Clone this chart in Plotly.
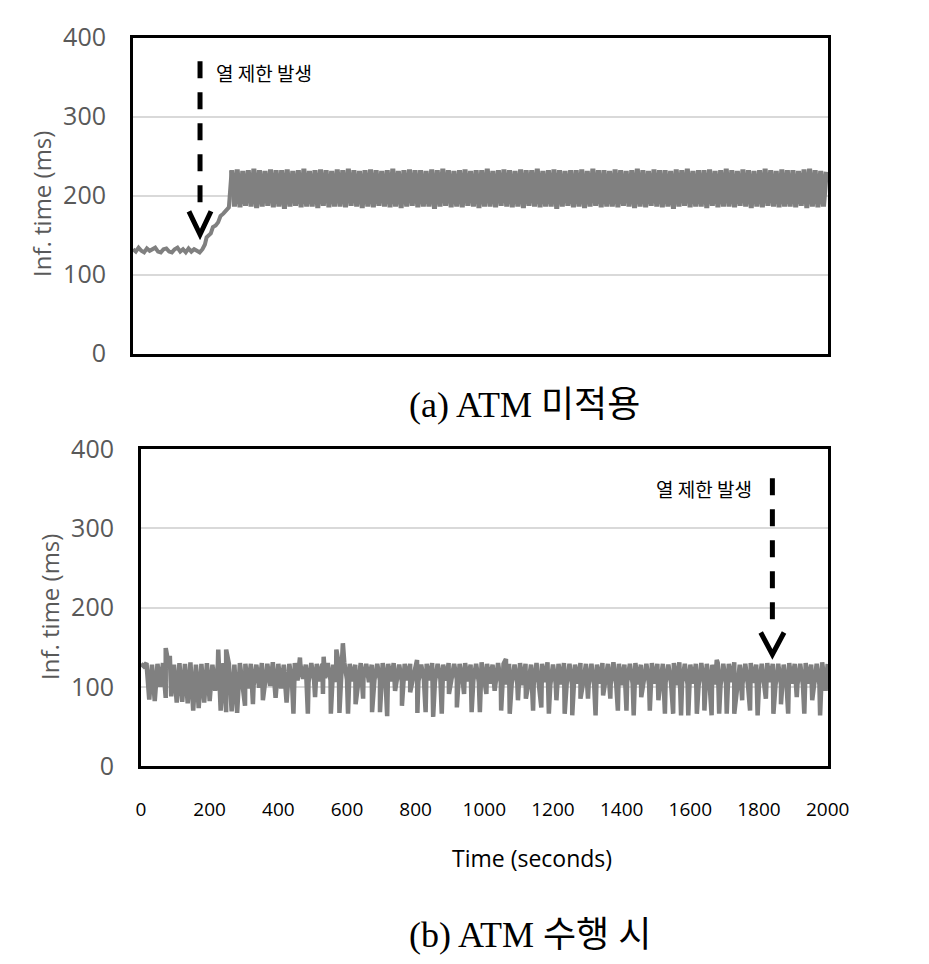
import plotly.graph_objects as go

# ---------------- data (seconds, ms) ----------------
# (a) without ATM
top_flat_t = list(range(0, 201, 8))
top_flat_v = [132, 129, 134, 130, 128, 133, 130, 132, 134, 129, 128, 132, 133,
              129, 128, 132, 134, 129, 132, 128, 133, 129, 132, 130, 128, 132]
top_rise_t = [207, 212, 218, 224, 230, 238, 245, 252, 260, 268, 276]
top_rise_v = [138, 147, 150, 152, 160, 162, 166, 174, 177, 182, 185]
top_band_start = 284
top_band_upper = [
    232, 233, 231, 232, 234, 232, 231, 233, 232, 232,
    233, 231, 232, 234, 231, 232, 233, 232, 231, 233,
    232, 234, 232, 231, 232, 233, 232, 231, 232, 234,
    231, 232, 233, 232, 232, 231, 233, 232, 234, 232,
    231, 232, 233, 231, 232, 232, 234, 231, 232, 233,
    232, 231, 233, 232, 232, 234, 231, 232, 233, 232,
    231, 232, 232, 233, 231, 234, 232, 232, 231, 233,
    232, 231, 232, 234, 232, 231, 233, 232, 232, 231,
    233, 232, 234, 231, 232, 232, 233, 231, 232, 234,
    232, 231, 233, 232, 231, 232, 234, 232, 231, 233,
    232, 232, 231, 233, 234, 232, 231, 230]
top_band_lower = [
    186, 185, 187, 186, 184, 186, 187, 185, 186, 183,
    186, 187, 185, 186, 186, 184, 187, 185, 186, 186,
    185, 187, 186, 184, 186, 185, 187, 186, 185, 186,
    184, 186, 187, 185, 186, 186, 183, 186, 187, 185,
    186, 185, 187, 186, 184, 186, 186, 185, 187, 186,
    185, 186, 184, 187, 186, 185, 186, 186, 183, 186,
    187, 185, 186, 184, 186, 187, 185, 186, 186, 185,
    187, 186, 184, 186, 185, 187, 186, 185, 186, 183,
    186, 187, 185, 186, 186, 184, 187, 185, 186, 186,
    185, 187, 186, 184, 186, 185, 187, 186, 185, 186,
    186, 185, 187, 184, 186, 185, 186]

# (b) with ATM
bot_upper = [
    129, 130, 128, 129, 130, 129, 128, 130, 129, 131,
    128, 129, 130, 128, 129, 130, 129, 128, 130, 129,
    129, 128, 130, 129, 131, 129, 128, 129, 130, 129,
    128, 130, 129, 129, 130, 128, 129, 131, 129, 128,
    130, 129, 128, 129, 130, 129, 130, 128, 129, 129,
    131, 128, 129, 130, 129, 128, 130, 129, 129, 130,
    128, 129, 131, 129, 128, 130, 129, 129, 128, 130,
    129, 128, 130, 129, 131, 128, 129, 130, 129, 128,
    130, 129, 129, 128, 130, 129, 131, 129, 128, 129,
    130, 128, 129, 130, 129, 129, 128, 130, 131, 129,
    128, 129, 130, 129, 128, 130, 129, 129, 131, 128,
    129, 130, 128, 129, 130, 129, 129, 128, 130, 129,
    129, 130, 128, 129, 131, 129]
bot_lower = [
    126, 84, 82, 100, 86, 88, 80, 81, 79, 70, 73, 80, 82, 95, 70, 68, 69, 67,
    100, 98, 102, 99, 100, 101, 86, 98, 80, 104,
    108, 110, 106, 109, 107, 111, 108, 106, 110, 109,
    107, 108, 111, 106, 109, 108, 110, 107, 109, 106,
    108, 110, 107, 109, 108, 106, 110, 108, 107, 109,
    111, 107, 108, 106, 109,
    104, 102, 105, 103, 106, 104, 102, 103, 105, 104,
    106, 102, 104, 103, 105, 101, 104, 106, 103, 102,
    104, 105, 103, 104, 102, 106, 104, 103, 105, 102,
    104, 103, 106, 104, 102, 105, 103, 104, 101, 104,
    105, 103, 102, 104, 106, 103, 104, 102, 105, 103,
    104, 106, 102, 103, 105, 104, 103, 102, 104, 105,
    103, 104]
bot_dip_t = [303, 326, 355, 444, 486, 507, 530, 553, 578, 603, 625, 647,
             673, 696, 717, 740, 760, 784, 805, 829, 851, 876,
             897, 920, 941, 963, 987, 1006, 1030, 1049, 1074, 1098,
             1121, 1142, 1166, 1188, 1210, 1234, 1256, 1280, 1302, 1324,
             1346, 1367, 1389, 1414, 1435, 1457, 1482, 1507, 1526, 1550,
             1573, 1594, 1619, 1641, 1662, 1684, 1706, 1728, 1751, 1774,
             1796, 1820, 1842, 1864, 1885, 1910, 1932, 1955, 1978, 1994]
bot_dip_v = [76, 78, 83, 66, 66, 87, 91, 66, 67, 66, 78, 85,
             68, 68, 63, 95, 76, 93, 67, 68, 62, 66,
             91, 74, 91, 68, 68, 91, 95, 70, 66, 83,
             85, 70, 74, 66, 83, 66, 64, 85, 85, 64,
             89, 85, 70, 70, 64, 87, 70, 83, 66, 66,
             64, 64, 66, 70, 64, 66, 66, 66, 83, 70,
             64, 85, 66, 78, 66, 87, 66, 83, 64, 95]
bot_spike_t = [72, 84, 225, 248, 463, 532, 569, 588, 804, 1063, 1677]
bot_spike_v = [149, 139, 147, 147, 137, 138, 147, 155, 134, 135, 134]

x_ticks = [0, 200, 400, 600, 800, 1000, 1200, 1400, 1600, 1800, 2000]
y_ticks = [0, 100, 200, 300, 400]

# ---------------- build series ----------------
band_t, band_v = [], []
for i in range(len(top_band_upper) + len(top_band_lower)):
    band_t.append(top_band_start + 8 * i)
    band_v.append(top_band_upper[i // 2] if i % 2 == 0 else top_band_lower[i // 2])

pts = [(16 * i, v) for i, v in enumerate(bot_upper)]
pts += [(8 + 16 * i, v) for i, v in enumerate(bot_lower)]
pts += list(zip(bot_dip_t, bot_dip_v)) + list(zip(bot_spike_t, bot_spike_v))
pts.sort(key=lambda p: p[0])
bot_t = [p[0] for p in pts]
bot_v = [p[1] for p in pts]

# ---------------- layout helpers (page has an 8px body margin) ----------------
W, H = 929, 964
OFF = 8


def px(x):
    return (x - OFF) / W


def py(y):
    return 1 - (y - OFF) / H


GRAY = '#808080'
fig = go.Figure()
fig.add_trace(go.Scatter(x=top_flat_t + top_rise_t + band_t[:1],
                         y=top_flat_v + top_rise_v + band_v[:1],
                         mode='lines', xaxis='x', yaxis='y',
                         line=dict(color=GRAY, width=4), hoverinfo='skip'))
fig.add_trace(go.Scatter(x=band_t, y=band_v, mode='lines', xaxis='x', yaxis='y',
                         line=dict(color=GRAY, width=5), hoverinfo='skip'))
fig.add_trace(go.Scatter(x=bot_t, y=bot_v, mode='lines', xaxis='x2', yaxis='y2',
                         line=dict(color=GRAY, width=4.5), hoverinfo='skip'))

common_y = dict(range=[0, 400], tickvals=y_ticks, showgrid=True, gridcolor='#d9d9d9',
                gridwidth=2, zeroline=False, showline=True, mirror=True,
                linecolor='black', linewidth=3, ticks='', automargin=False,
                tickfont=dict(family='Open Sans', size=25, color='#595959'),
                ticklabelstandoff=19)
common_x = dict(range=[0, 2001], showgrid=False, zeroline=False, showline=True,
                mirror=True, linecolor='black', linewidth=3, ticks='',
                tickvals=x_ticks, automargin=False)

fig.update_layout(
    width=W, height=H, margin=dict(l=0, r=0, t=0, b=0, autoexpand=False),
    paper_bgcolor='white', plot_bgcolor='white', showlegend=False,
    xaxis=dict(domain=[px(133), px(828)], anchor='y', showticklabels=False, **common_x),
    yaxis=dict(domain=[py(353.5), py(37.5)], anchor='x', **common_y),
    xaxis2=dict(domain=[px(141), px(828)], anchor='y2', showticklabels=True,
                tickfont=dict(family='Open Sans', size=19, color='black'),
                ticklabelstandoff=24, **common_x),
    yaxis2=dict(domain=[py(766), py(449.3)], anchor='x2', **common_y),
)

# dashed arrows (thermal throttling event)
dash_line = dict(color='black', width=5, dash='17px,14px')
fig.add_shape(type='line', xref='x', yref='y', x0=193, x1=193, y0=370, y1=189,
              line=dash_line, layer='above')
fig.add_shape(type='path', xref='x', yref='y', path='M161,180 L193,150.6 L224.6,180',
              line=dict(color='black', width=5), layer='above')
fig.add_shape(type='line', xref='x2', yref='y2', x0=1839, x1=1839, y0=363.5, y1=185,
              line=dash_line, layer='above')
fig.add_shape(type='path', xref='x2', yref='y2', path='M1805,168.6 L1839,140.9 L1873,168.6',
              line=dict(color='black', width=5), layer='above')

KR = 'Noto Sans CJK KR'
ann = []
ann.append(dict(text='열 제한 발생', x=px(264), y=py(73), font=dict(family=KR, size=19, color='black')))
ann.append(dict(text='열 제한 발생', x=px(703.5), y=py(488), font=dict(family=KR, size=19, color='black')))
ann.append(dict(text='Inf. time (ms)', x=px(42), y=py(204), textangle=-90,
                font=dict(family='Open Sans', size=24, color='#595959')))
ann.append(dict(text='Inf. time (ms)', x=px(49), y=py(607), textangle=-90,
                font=dict(family='Open Sans', size=24, color='#595959')))
ann.append(dict(text='Time (seconds)', x=px(532), y=py(858),
                font=dict(family='Open Sans', size=23, color='black')))
ann.append(dict(text='(a) ATM 미적용', x=px(524), y=py(405),
                font=dict(family='Liberation Serif, ' + KR, size=36, color='black')))
ann.append(dict(text='(b) ATM 수행 시', x=px(530), y=py(935),
                font=dict(family='Liberation Serif, ' + KR, size=36, color='black')))
for a in ann:
    a.update(xref='paper', yref='paper', showarrow=False, xanchor='center', yanchor='middle')
fig.update_layout(annotations=ann)

fig.write_html('out.html')
